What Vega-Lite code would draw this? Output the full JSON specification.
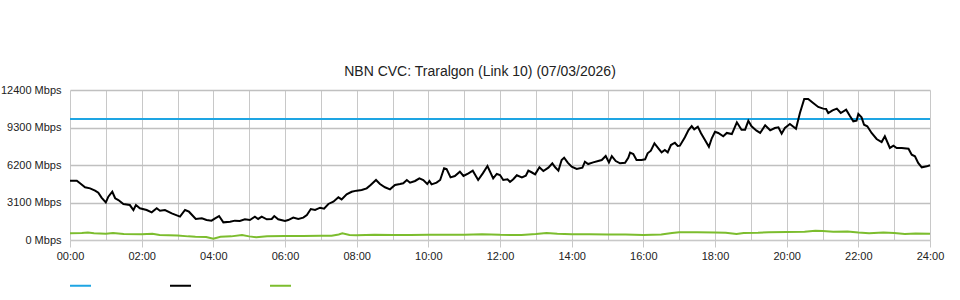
{
  "$schema": "https://vega.github.io/schema/vega-lite/v6.json",
  "width": 860,
  "height": 150,
  "autosize": "none",
  "padding": {"left": 70, "top": 90, "right": 30, "bottom": 60},
  "background": "white",
  "config": {
    "view": {"stroke": null},
    "font": "Liberation Sans"
  },
  "title": {
    "text": "NBN CVC: Traralgon (Link 10) (07/03/2026)",
    "fontSize": 14,
    "fontWeight": "normal",
    "font": "Liberation Sans",
    "color": "#222",
    "anchor": "middle",
    "baseline": "alphabetic",
    "offset": 14,
    "dx": -20,
    "dy": 20
  },
  "datasets": {
    "cap": [
      {"s": "Capacity", "h": 0, "v": 10000},
      {"s": "Capacity", "h": 24, "v": 10000}
    ],
    "down": [
      {"h": 0.00, "v": 4900}, {"h": 0.19, "v": 4900}, {"h": 0.28, "v": 4690}, {"h": 0.42, "v": 4360},
      {"h": 0.56, "v": 4270}, {"h": 0.70, "v": 4080}, {"h": 0.79, "v": 3910}, {"h": 0.88, "v": 3500},
      {"h": 1.00, "v": 3110}, {"h": 1.07, "v": 3580}, {"h": 1.18, "v": 3990}, {"h": 1.26, "v": 3450},
      {"h": 1.35, "v": 3300}, {"h": 1.49, "v": 2980}, {"h": 1.67, "v": 2890}, {"h": 1.77, "v": 2480},
      {"h": 1.84, "v": 2890}, {"h": 1.95, "v": 2620}, {"h": 2.14, "v": 2480}, {"h": 2.28, "v": 2290},
      {"h": 2.42, "v": 2620}, {"h": 2.51, "v": 2420}, {"h": 2.65, "v": 2480}, {"h": 2.84, "v": 2200},
      {"h": 3.07, "v": 1930}, {"h": 3.21, "v": 2480}, {"h": 3.32, "v": 2340}, {"h": 3.51, "v": 1740},
      {"h": 3.68, "v": 1790}, {"h": 3.81, "v": 1650}, {"h": 3.95, "v": 1600}, {"h": 4.05, "v": 1790},
      {"h": 4.16, "v": 1980}, {"h": 4.28, "v": 1460}, {"h": 4.47, "v": 1510}, {"h": 4.60, "v": 1600},
      {"h": 4.74, "v": 1570}, {"h": 4.88, "v": 1710}, {"h": 5.02, "v": 1650}, {"h": 5.16, "v": 1930},
      {"h": 5.25, "v": 1740}, {"h": 5.35, "v": 1930}, {"h": 5.49, "v": 1710}, {"h": 5.63, "v": 1740},
      {"h": 5.70, "v": 1980}, {"h": 5.81, "v": 1710}, {"h": 6.00, "v": 1570}, {"h": 6.09, "v": 1650},
      {"h": 6.23, "v": 1850}, {"h": 6.37, "v": 1740}, {"h": 6.51, "v": 1850}, {"h": 6.61, "v": 2070},
      {"h": 6.72, "v": 2560}, {"h": 6.84, "v": 2480}, {"h": 6.98, "v": 2670}, {"h": 7.09, "v": 2590},
      {"h": 7.21, "v": 2980}, {"h": 7.35, "v": 3170}, {"h": 7.49, "v": 3530}, {"h": 7.58, "v": 3360},
      {"h": 7.72, "v": 3780}, {"h": 7.86, "v": 3990}, {"h": 8.00, "v": 4080}, {"h": 8.14, "v": 4130},
      {"h": 8.28, "v": 4270}, {"h": 8.39, "v": 4550}, {"h": 8.54, "v": 4960}, {"h": 8.65, "v": 4630},
      {"h": 8.79, "v": 4360}, {"h": 8.93, "v": 4190}, {"h": 9.07, "v": 4550}, {"h": 9.21, "v": 4630},
      {"h": 9.30, "v": 4690}, {"h": 9.40, "v": 4960}, {"h": 9.49, "v": 4740}, {"h": 9.63, "v": 4880},
      {"h": 9.75, "v": 5100}, {"h": 9.86, "v": 4960}, {"h": 9.97, "v": 4630}, {"h": 10.03, "v": 4880},
      {"h": 10.09, "v": 4600}, {"h": 10.23, "v": 4740}, {"h": 10.33, "v": 4960}, {"h": 10.44, "v": 5930},
      {"h": 10.51, "v": 5870}, {"h": 10.62, "v": 5180}, {"h": 10.74, "v": 5290}, {"h": 10.88, "v": 5650},
      {"h": 10.98, "v": 5290}, {"h": 11.12, "v": 5510}, {"h": 11.24, "v": 5730}, {"h": 11.39, "v": 4960},
      {"h": 11.52, "v": 5510}, {"h": 11.65, "v": 6120}, {"h": 11.81, "v": 5100}, {"h": 11.91, "v": 5460},
      {"h": 12.00, "v": 5370}, {"h": 12.09, "v": 4960}, {"h": 12.21, "v": 5020}, {"h": 12.28, "v": 4800},
      {"h": 12.37, "v": 5020}, {"h": 12.47, "v": 5350}, {"h": 12.61, "v": 5180}, {"h": 12.72, "v": 5320},
      {"h": 12.79, "v": 5730}, {"h": 12.88, "v": 5600}, {"h": 12.98, "v": 5430}, {"h": 13.10, "v": 6010},
      {"h": 13.21, "v": 5700}, {"h": 13.35, "v": 5980}, {"h": 13.46, "v": 6340}, {"h": 13.54, "v": 6010},
      {"h": 13.63, "v": 5730}, {"h": 13.72, "v": 6610}, {"h": 13.79, "v": 6800}, {"h": 13.89, "v": 6390},
      {"h": 14.00, "v": 6060}, {"h": 14.14, "v": 5870}, {"h": 14.30, "v": 5980}, {"h": 14.37, "v": 6470},
      {"h": 14.46, "v": 6280}, {"h": 14.60, "v": 6420}, {"h": 14.74, "v": 6530}, {"h": 14.84, "v": 6610},
      {"h": 14.95, "v": 6940}, {"h": 15.04, "v": 6420}, {"h": 15.12, "v": 6940}, {"h": 15.23, "v": 6530},
      {"h": 15.35, "v": 6340}, {"h": 15.49, "v": 6390}, {"h": 15.58, "v": 6800}, {"h": 15.63, "v": 7220},
      {"h": 15.72, "v": 7110}, {"h": 15.81, "v": 6610}, {"h": 15.95, "v": 6610}, {"h": 16.05, "v": 6670},
      {"h": 16.12, "v": 7170}, {"h": 16.21, "v": 7380}, {"h": 16.31, "v": 7990}, {"h": 16.42, "v": 7580},
      {"h": 16.51, "v": 7250}, {"h": 16.60, "v": 7440}, {"h": 16.68, "v": 7250}, {"h": 16.77, "v": 7850},
      {"h": 16.88, "v": 8040}, {"h": 16.96, "v": 7770}, {"h": 17.02, "v": 7800}, {"h": 17.16, "v": 8490},
      {"h": 17.26, "v": 9090}, {"h": 17.35, "v": 9420}, {"h": 17.42, "v": 9150}, {"h": 17.52, "v": 9370},
      {"h": 17.61, "v": 8820}, {"h": 17.72, "v": 8270}, {"h": 17.83, "v": 7710}, {"h": 17.91, "v": 8410},
      {"h": 18.00, "v": 8950}, {"h": 18.09, "v": 8850}, {"h": 18.23, "v": 8570}, {"h": 18.33, "v": 8850},
      {"h": 18.47, "v": 8760}, {"h": 18.61, "v": 9730}, {"h": 18.74, "v": 9120}, {"h": 18.84, "v": 9120},
      {"h": 18.93, "v": 9850}, {"h": 19.02, "v": 9400}, {"h": 19.16, "v": 9040}, {"h": 19.26, "v": 8850},
      {"h": 19.40, "v": 9480}, {"h": 19.54, "v": 9070}, {"h": 19.67, "v": 9260}, {"h": 19.77, "v": 9320},
      {"h": 19.86, "v": 8790}, {"h": 19.95, "v": 9260}, {"h": 20.09, "v": 9590}, {"h": 20.26, "v": 9200},
      {"h": 20.37, "v": 10500}, {"h": 20.49, "v": 11660}, {"h": 20.60, "v": 11660}, {"h": 20.74, "v": 11330},
      {"h": 20.88, "v": 11000}, {"h": 21.02, "v": 10860}, {"h": 21.10, "v": 10830}, {"h": 21.16, "v": 10500},
      {"h": 21.28, "v": 10720}, {"h": 21.40, "v": 10860}, {"h": 21.51, "v": 10500}, {"h": 21.66, "v": 10770},
      {"h": 21.77, "v": 10230}, {"h": 21.86, "v": 9810}, {"h": 21.95, "v": 9860}, {"h": 22.00, "v": 10420},
      {"h": 22.09, "v": 10140}, {"h": 22.16, "v": 9530}, {"h": 22.25, "v": 9400}, {"h": 22.37, "v": 8850},
      {"h": 22.51, "v": 8350}, {"h": 22.65, "v": 8100}, {"h": 22.74, "v": 8570}, {"h": 22.88, "v": 7610},
      {"h": 22.98, "v": 7800}, {"h": 23.07, "v": 7610}, {"h": 23.21, "v": 7610}, {"h": 23.40, "v": 7550},
      {"h": 23.49, "v": 7050}, {"h": 23.58, "v": 6920}, {"h": 23.67, "v": 6370}, {"h": 23.77, "v": 6010},
      {"h": 23.91, "v": 6090}, {"h": 24.00, "v": 6180}
    ],
    "up": [
      {"h": 0.0, "v": 550}, {"h": 0.33, "v": 580}, {"h": 0.5, "v": 620}, {"h": 0.67, "v": 560},
      {"h": 1.0, "v": 520}, {"h": 1.2, "v": 580}, {"h": 1.5, "v": 500}, {"h": 2.0, "v": 480},
      {"h": 2.3, "v": 520}, {"h": 2.5, "v": 420}, {"h": 3.0, "v": 380}, {"h": 3.3, "v": 300},
      {"h": 3.5, "v": 260}, {"h": 3.8, "v": 250}, {"h": 4.0, "v": 110}, {"h": 4.2, "v": 260},
      {"h": 4.5, "v": 300}, {"h": 4.8, "v": 420}, {"h": 5.0, "v": 300}, {"h": 5.2, "v": 220},
      {"h": 5.5, "v": 300}, {"h": 6.0, "v": 330}, {"h": 6.5, "v": 330}, {"h": 7.0, "v": 350},
      {"h": 7.3, "v": 350}, {"h": 7.5, "v": 450}, {"h": 7.6, "v": 550}, {"h": 7.8, "v": 420},
      {"h": 8.0, "v": 400}, {"h": 8.5, "v": 430}, {"h": 9.0, "v": 420}, {"h": 9.5, "v": 420},
      {"h": 10.0, "v": 440}, {"h": 10.5, "v": 430}, {"h": 11.0, "v": 440}, {"h": 11.5, "v": 480},
      {"h": 12.0, "v": 430}, {"h": 12.3, "v": 420}, {"h": 12.6, "v": 420}, {"h": 13.0, "v": 500},
      {"h": 13.3, "v": 580}, {"h": 13.6, "v": 520}, {"h": 14.0, "v": 480}, {"h": 14.5, "v": 470},
      {"h": 15.0, "v": 460}, {"h": 15.5, "v": 450}, {"h": 16.0, "v": 420}, {"h": 16.5, "v": 460},
      {"h": 16.8, "v": 580}, {"h": 17.0, "v": 640}, {"h": 17.5, "v": 640}, {"h": 18.0, "v": 630},
      {"h": 18.3, "v": 600}, {"h": 18.6, "v": 500}, {"h": 18.8, "v": 570}, {"h": 19.2, "v": 600},
      {"h": 19.5, "v": 650}, {"h": 20.0, "v": 660}, {"h": 20.5, "v": 680}, {"h": 20.8, "v": 760},
      {"h": 21.0, "v": 740}, {"h": 21.3, "v": 680}, {"h": 21.7, "v": 700}, {"h": 22.0, "v": 620},
      {"h": 22.3, "v": 560}, {"h": 22.7, "v": 610}, {"h": 23.0, "v": 580}, {"h": 23.3, "v": 500},
      {"h": 23.6, "v": 540}, {"h": 24.0, "v": 520}
    ]
  },
  "data": {"name": "cap"},
  "encoding": {
    "x": {
      "field": "h", "type": "quantitative",
      "scale": {"domain": [0, 24], "nice": false, "zero": false},
      "axis": {
        "title": null,
        "values": [0,1,2,3,4,5,6,7,8,9,10,11,12,13,14,15,16,17,18,19,20,21,22,23,24],
        "grid": true, "gridColor": "#c8c8c8", "gridWidth": 1,
        "domainColor": "#c8c8c8",
        "tickColor": "#c8c8c8", "tickSize": 7,
        "tickOpacity": {"condition": {"test": "datum.value % 2 !== 0", "value": 0}, "value": 1},
        "labelExpr": "datum.value % 2 === 0 ? ((datum.value < 10 ? '0' : '') + datum.value + ':00') : ''",
        "labelFontSize": 11, "labelColor": "#222", "labelPadding": 3, "labelFont": "Liberation Sans",
        "labelFlush": false, "labelOverlap": false
      }
    },
    "y": {
      "field": "v", "type": "quantitative",
      "scale": {"domain": [0, 12400], "nice": false},
      "axis": {
        "title": null,
        "values": [0, 3100, 6200, 9300, 12400],
        "grid": true, "gridColor": "#c0c0c0", "gridWidth": 1.5,
        "domain": false, "ticks": false,
        "labelExpr": "datum.value + ' Mbps'",
        "labelFontSize": 11, "labelColor": "#222", "labelPadding": 9, "labelFont": "Liberation Sans"
      }
    },
    "color": {
      "field": "s", "type": "nominal",
      "scale": {"domain": ["Capacity", "Download", "Upload"], "range": ["#1ea5e3", "#000000", "#7cbd2e"]},
      "legend": {
        "title": null,
        "orient": "none",
        "direction": "horizontal",
        "legendX": -1,
        "legendY": 184,
        "symbolType": "stroke",
        "symbolSize": 441,
        "symbolStrokeWidth": 2,
        "labelExpr": "''",
        "labelOffset": 0,
        "columnPadding": 71,
        "padding": 0
      }
    }
  },
  "layer": [
    {"mark": {"type": "line", "strokeWidth": 2}},
    {"data": {"name": "down"}, "transform": [{"calculate": "'Download'", "as": "s"}], "mark": {"type": "line", "strokeWidth": 2}},
    {"data": {"name": "up"}, "transform": [{"calculate": "'Upload'", "as": "s"}], "mark": {"type": "line", "strokeWidth": 2}}
  ]
}
